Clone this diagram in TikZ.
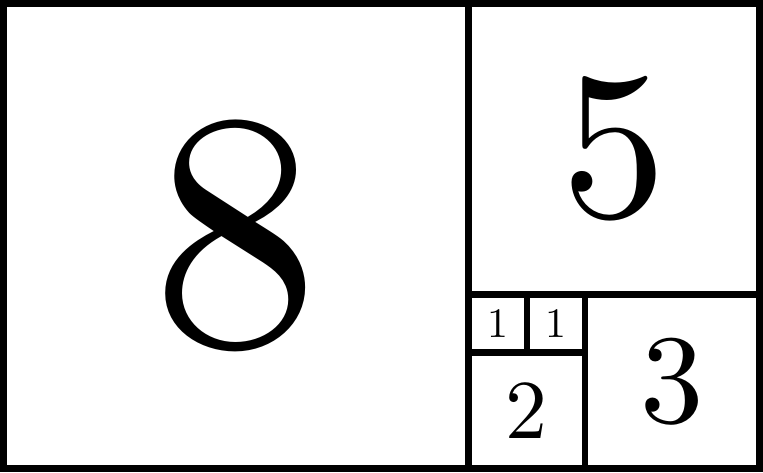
\documentclass[tikz,border=0pt]{standalone}
\usepackage{tikz}
\newcommand\digitsize[1]{\font\fibfont="[lmroman10-regular.otf]" at #1pt\fibfont}

\begin{document}
\begin{tikzpicture}[
  sq/.style={draw,line width=3.3pt,inner sep=0pt,outer sep=0pt},
  fs/.style={font=\digitsize{#1}}
]
\useasboundingbox (-0.06,-0.06) rectangle (13.06,8.06);
\node[sq,minimum size=8cm,fs=165] (s8) at (4,4) {8};
\node[sq,minimum size=5cm,fs=103] (s5) at (10.5,5.5) {5};
\node[sq,minimum size=3cm,fs=62] (s3) at (11.5,1.5) {3};
\node[sq,minimum size=2cm,fs=41] (s2) at (9,1) {2};
\node[sq,minimum size=1cm,fs=20.5] (s1a) at (8.5,2.5) {1};
\node[sq,minimum size=1cm,fs=20.5] (s1b) at (9.5,2.5) {1};
\end{tikzpicture}
\end{document}
